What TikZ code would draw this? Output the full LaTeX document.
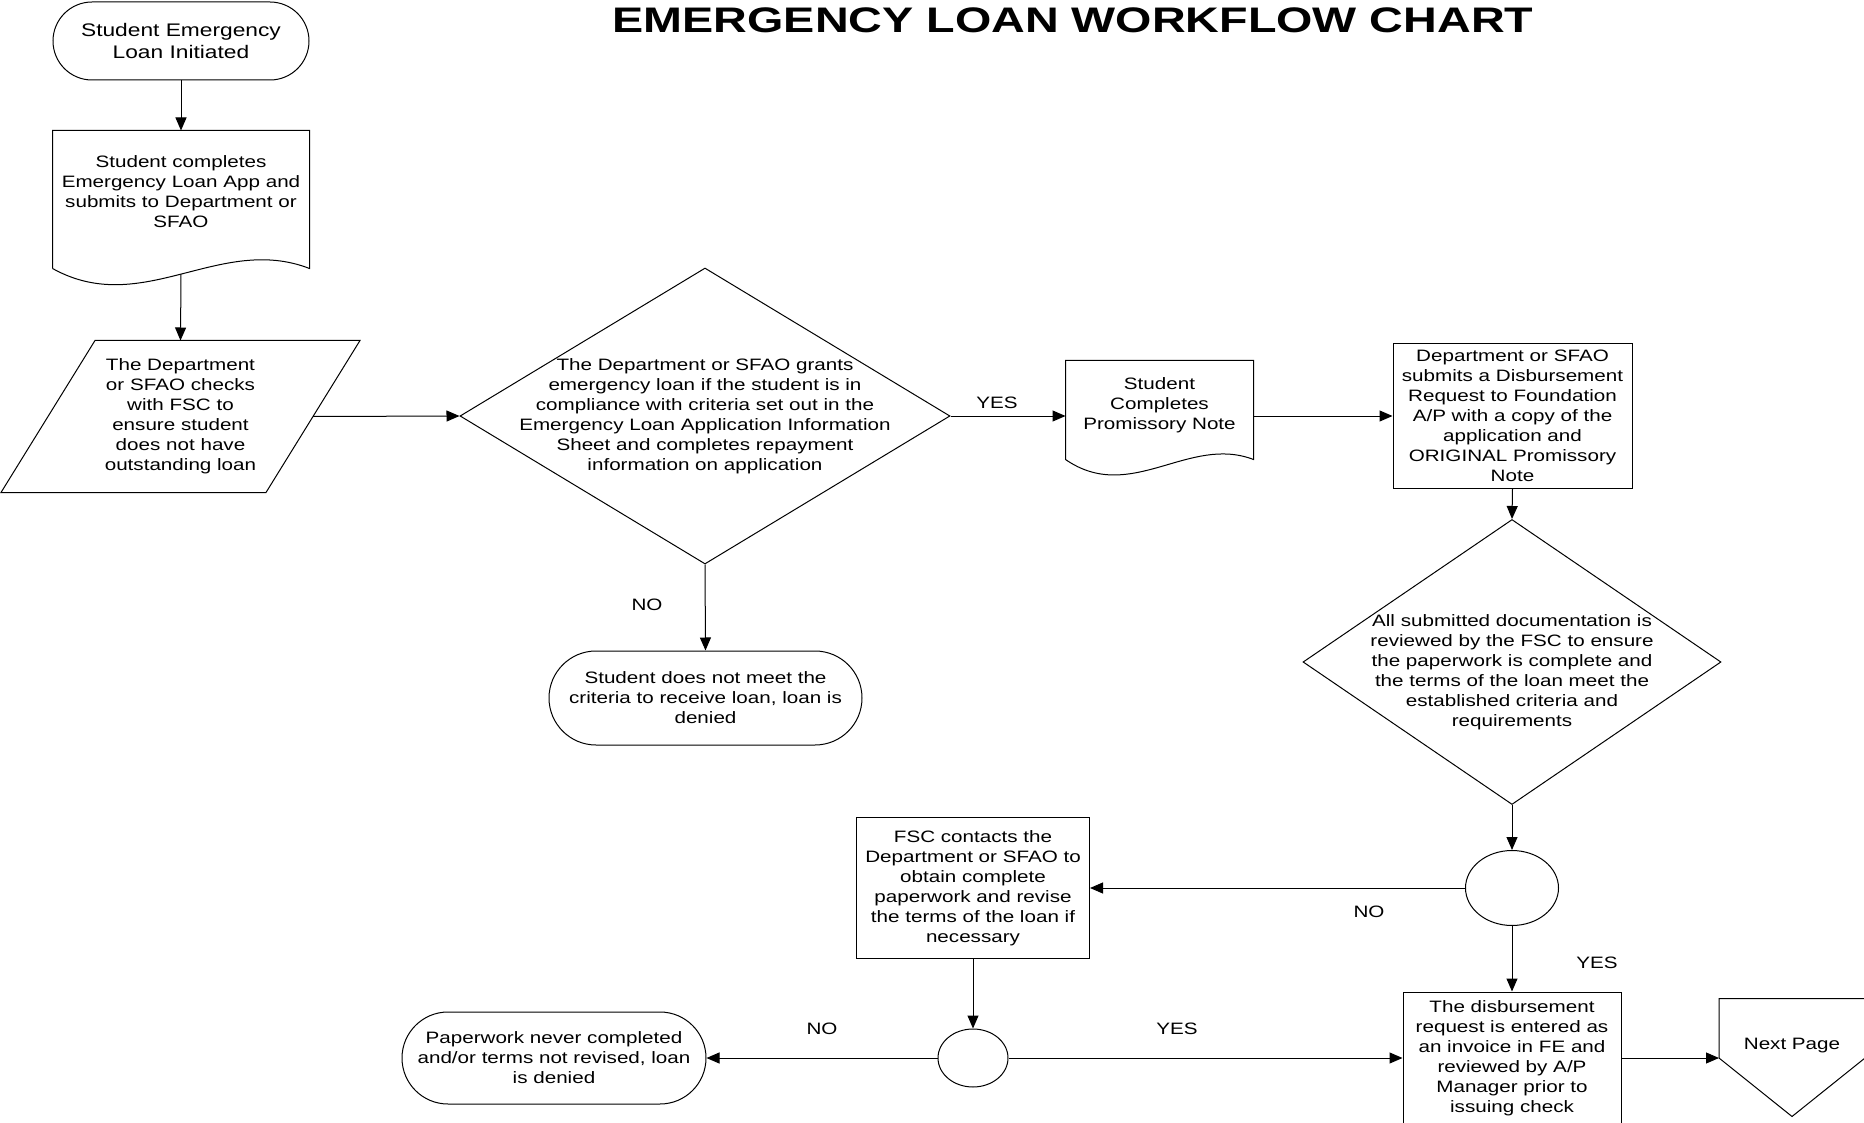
\documentclass[tikz,border=0pt]{standalone}
\usepackage{fontspec}
\setmainfont{Liberation Sans}[FakeStretch=1.25]
\newfontfamily\headfont{Liberation Sans}[FakeStretch=1.315]
\usetikzlibrary{arrows.meta,shapes.geometric,shapes.misc}
\begin{document}
\begin{tikzpicture}[x=1pt,y=-1pt,line width=1pt,
  base/.style={font=\fontsize{16.5pt}{20pt}\selectfont,align=center,inner sep=0pt},
  term/.style={base,draw,rounded rectangle},
  proc/.style={base,draw,rectangle},
  doc/.style={base,rectangle},
  dec/.style={draw,diamond,inner sep=0pt},
  junc/.style={draw,ellipse,inner sep=0pt},
  link/.style={-{Triangle[length=13pt,width=11pt]}}]
\useasboundingbox (0,0) rectangle (1864,1123);
\node[anchor=base,font=\headfont\bfseries\fontsize{35.5pt}{40pt}\selectfont] (title) at (1073,33) {EMERGENCY LOAN WORKFLOW CHART};
\node[term,font=\fontsize{18.2pt}{22pt}\selectfont,minimum width=256pt,minimum height=78pt] (start) at (181,41) {Student Emergency\\Loan Initiated};
\node[doc,minimum width=256pt,minimum height=121pt] (app) at (181,191.5) {Student completes\\Emergency Loan App and\\submits to Department or\\SFAO};
\draw ([yshift=-16pt]app.south west) -- (app.north west) -- (app.north east) -- ([yshift=-16pt]app.south east) .. controls +(-90,-35) and +(90,50) .. ([yshift=-16pt]app.south west);
\node[doc,minimum width=264pt,minimum height=151pt] (check) at (180.5,416.5) {The Department\\or SFAO checks\\with FSC to\\ensure student\\does not have\\outstanding loan};
\draw ([xshift=47pt]check.north west) -- ([xshift=47pt]check.north east) -- ([xshift=-47pt]check.south east) -- ([xshift=-47pt]check.south west) -- cycle;
\node[dec,minimum width=490pt,minimum height=296pt] (grant) at (705,416) {};
\node[base] (grant-t) at (grant) {The Department or SFAO grants\\emergency loan if the student is in\\compliance with criteria set out in the\\Emergency Loan Application Information\\Sheet and completes repayment\\information on application};
\node[term,minimum width=313pt,minimum height=94pt] (deny) at (705.5,698) {Student does not meet the\\criteria to receive loan, loan is\\denied};
\node[doc,minimum width=187pt,minimum height=88pt] (promise) at (1159.5,405) {Student\\Completes\\Promissory Note};
\draw ([yshift=-10pt]promise.south west) -- (promise.north west) -- (promise.north east) -- ([yshift=-10pt]promise.south east) .. controls +(-65,-25) and +(65,45) .. ([yshift=-10pt]promise.south west);
\node[proc,minimum width=239pt,minimum height=144pt] (submit) at (1512.5,416) {Department or SFAO\\submits a Disbursement\\Request to Foundation\\A/P with a copy of the\\application and\\ORIGINAL Promissory\\Note};
\node[dec,minimum width=418pt,minimum height=285pt] (review) at (1512,662) {};
\node[base] (review-t) at (1512,672) {All submitted documentation is\\reviewed by the FSC to ensure\\the paperwork is complete and\\the terms of the loan meet the\\established criteria and\\requirements};
\node[junc,minimum width=93pt,minimum height=75pt] (gate) at (1512,888) {};
\node[proc,minimum width=233pt,minimum height=141pt] (fix) at (973,888) {FSC contacts the\\Department or SFAO to\\obtain complete\\paperwork and revise\\the terms of the loan if\\necessary};
\node[junc,minimum width=70pt,minimum height=58pt] (recheck) at (973,1058) {};
\node[term,minimum width=304pt,minimum height=92pt] (lost) at (554,1058) {Paperwork never completed\\and/or terms not revised, loan\\is denied};
\node[proc,minimum width=218pt,minimum height=132pt] (invoice) at (1512,1058) {The disbursement\\request is entered as\\an invoice in FE and\\reviewed by A/P\\Manager prior to\\issuing check};
\node[doc,minimum width=145pt,minimum height=94pt] (nextpg) at (1792,1046) {Next Page};
\draw (nextpg.north west) -- (nextpg.north east) -- ([yshift=-12pt]nextpg.east) -- ([yshift=-23pt]nextpg.south) -- ([yshift=-12pt]nextpg.west) -- cycle;
\draw[link] (start.south) -- (app.north);
\draw[link] ([yshift=-22pt]app.south) -- (check.north);
\draw[link] (check.east) -- (grant.west);
\draw[link] (grant.east) -- (grant.east -| promise.west);
\draw[link] (grant.east -| promise.east) -- (submit.west);
\draw[link] (grant.south) -- (deny.north);
\draw[link] (submit.south) -- (review.north);
\draw[link] (review.south) -- (gate.north);
\draw[link] (gate.west) -- (fix.east);
\draw[link] (gate.south) -- (invoice.north);
\draw[link] (fix.south) -- (recheck.north);
\draw[link] (recheck.west) -- (lost.east);
\draw[link] (recheck.east) -- (invoice.west);
\draw[link] (invoice.east) -- ([yshift=-12pt]nextpg.west);
\node[base] (yes1) at (997,403) {YES};
\node[base] (no1) at (647,605) {NO};
\node[base] (no2) at (1369,912) {NO};
\node[base] (yes2) at (1597,963) {YES};
\node[base] (no3) at (822,1029) {NO};
\node[base] (yes3) at (1177,1029) {YES};
\end{tikzpicture}
\end{document}
